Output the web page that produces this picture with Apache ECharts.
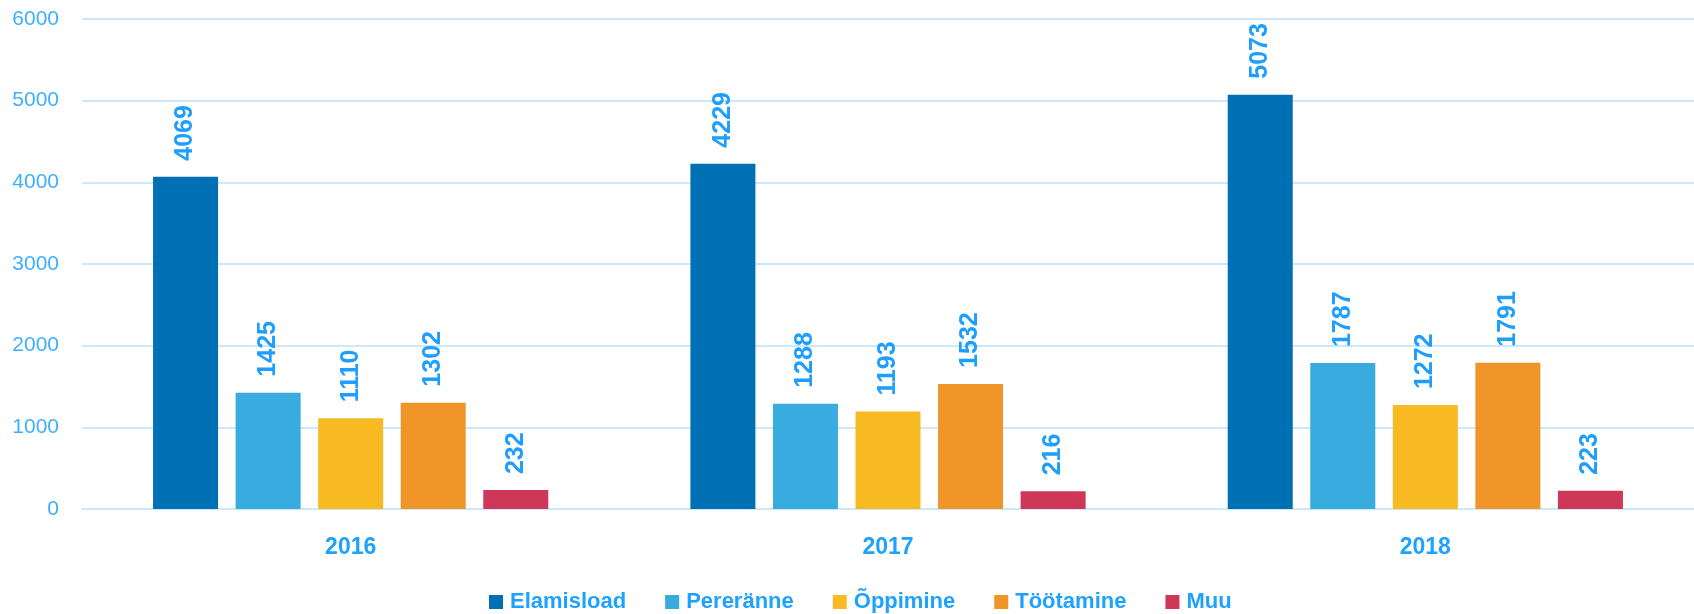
<!DOCTYPE html>
<html>
<head>
<meta charset="utf-8">
<script src="https://cdn.jsdelivr.net/npm/echarts@6/dist/echarts.min.js"></script>
<style>
html,body{margin:0;padding:0;background:#fff;}
#chart{width:1694px;height:614px;}
</style>
</head>
<body>
<div id="chart"></div>
<script>
const categories = ['2016', '2017', '2018'];
const seriesNames = ['Elamisload', 'Pereränne', 'Õppimine', 'Töötamine', 'Muu'];
const elamisload = [4069, 4229, 5073];
const pereranne = [1425, 1288, 1787];
const oppimine = [1110, 1193, 1272];
const tootamine = [1302, 1532, 1791];
const muu = [232, 216, 223];
const yTicks = [0, 1000, 2000, 3000, 4000, 5000, 6000];

const colors = ['#0070B4', '#38ACDE', '#F8BA22', '#F09528', '#CE3757'];
const values = [elamisload, pereranne, oppimine, tootamine, muu];
const FONT = '"Liberation Sans", Arial, sans-serif';

const chart = echarts.init(document.getElementById('chart'), null, {renderer: 'canvas'});
chart.setOption({
  animation: false,
  backgroundColor: '#ffffff',
  color: colors,
  grid: {left: 82, right: 0, top: 19, bottom: 105, containLabel: false},
  legend: {
    data: seriesNames,
    left: 484,
    top: 586,
    itemWidth: 14,
    itemHeight: 14,
    itemGap: 39,
    icon: 'rect',
    textStyle: {color: '#1EA2FF', fontSize: 22, fontWeight: 'bold', fontFamily: FONT, padding: [0, 0, 0, 2]}
  },
  xAxis: {
    type: 'category',
    data: categories,
    axisLine: {show: true, lineStyle: {color: '#CDE8FA', width: 2}},
    axisTick: {show: false},
    axisLabel: {color: '#1EA2FF', fontSize: 23, fontWeight: 'bold', fontFamily: FONT, margin: 27}
  },
  yAxis: {
    type: 'value',
    min: yTicks[0],
    max: yTicks[yTicks.length - 1],
    interval: yTicks[1] - yTicks[0],
    axisLine: {show: false},
    axisTick: {show: false},
    splitLine: {lineStyle: {color: '#CDE8FA', width: 2}},
    axisLabel: {color: '#3DB0FF', fontSize: 21, fontFamily: FONT, margin: 23, formatter: v => String(v)}
  },
  series: seriesNames.map((name, i) => ({
    name: name,
    type: 'bar',
    data: values[i],
    barWidth: 65,
    barGap: '27%',
    itemStyle: {color: colors[i]},
    label: {
      show: true,
      position: 'top',
      rotate: 90,
      align: 'left',
      verticalAlign: 'middle',
      distance: 16,
      color: '#1E9EFF',
      fontSize: 25,
      fontWeight: 'bold',
      fontFamily: FONT
    }
  }))
});
</script>
</body>
</html>
